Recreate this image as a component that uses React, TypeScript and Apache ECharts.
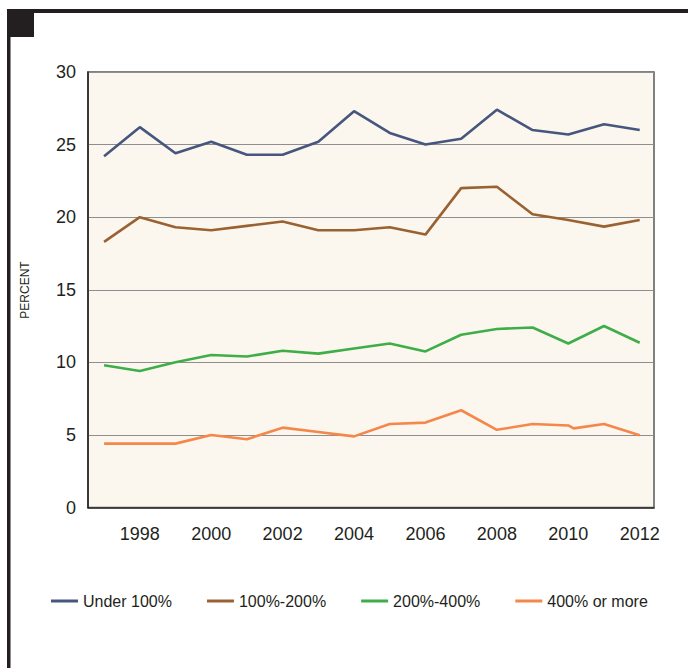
import React, { useEffect, useRef } from "react";
import * as echarts from "echarts";

const years = [1997, 1998, 1999, 2000, 2001, 2002, 2003, 2004, 2005, 2006, 2007, 2008, 2009, 2010, 2011, 2012];
const under100 = [24.2, 26.2, 24.4, 25.2, 24.3, 24.3, 25.2, 27.3, 25.8, 25.0, 25.4, 27.4, 26.0, 25.7, 26.4, 26.0];
const p100to200 = [18.3, 20.0, 19.3, 19.1, 19.4, 19.7, 19.1, 19.1, 19.3, 18.8, 22.0, 22.1, 20.2, 19.8, 19.35, 19.8];
const p200to400 = [9.8, 9.4, 10.0, 10.5, 10.4, 10.8, 10.6, 10.95, 11.3, 10.75, 11.9, 12.3, 12.4, 11.3, 12.5, 11.35];
const orangeYears = [1997, 1998, 1999, 2000, 2001, 2002, 2003, 2004, 2005, 2006, 2007, 2008, 2009, 2010, 2010.15, 2011, 2012];
const p400plus = [4.4, 4.4, 4.4, 5.0, 4.7, 5.5, 5.2, 4.9, 5.75, 5.85, 6.7, 5.35, 5.75, 5.65, 5.45, 5.75, 4.98];
const seriesNames = ["Under 100%", "100%-200%", "200%-400%", "400% or more"];
const seriesColors = ["#47567e", "#9a6232", "#3fae49", "#f5874a"];
const xTickLabels = [1998, 2000, 2002, 2004, 2006, 2008, 2010, 2012];
const yTicks = [0, 5, 10, 15, 20, 25, 30];

const FONT = "'Liberation Sans', Arial, Helvetica, sans-serif";
const INK = "#231f20";

function pairs(xs: number[], ys: number[]) {
  return xs.map((x, i) => [x, ys[i]]);
}

export default function App() {
  const ref = useRef<HTMLDivElement>(null);
  useEffect(() => {
    if (!ref.current) return;
    const chart = echarts.init(ref.current, undefined, { renderer: "svg" });
    const datasets = [
      pairs(years, under100),
      pairs(years, p100to200),
      pairs(years, p200to400),
      pairs(orangeYears, p400plus),
    ];
    chart.setOption({
      animation: false,
      backgroundColor: "#ffffff",
      textStyle: { fontFamily: FONT },
      grid: {
        left: 88,
        top: 72,
        right: 34,
        bottom: 160.5,
        show: true,
        backgroundColor: "#fbf7ef",
        borderColor: "#5a5a5a",
        borderWidth: 1.5,
      },
      legend: {
        left: 51,
        top: 593,
        padding: 0,
        icon: "rect",
        itemWidth: 27,
        itemHeight: 3,
        itemGap: 35,
        data: seriesNames,
        textStyle: { fontSize: 16, color: INK, fontFamily: FONT },
      },
      xAxis: {
        type: "value",
        min: 1996.55,
        max: 2012.4,
        axisLine: { show: true, lineStyle: { color: INK, width: 1.5 } },
        axisTick: { show: false },
        splitLine: { show: false },
        axisLabel: {
          customValues: xTickLabels,
          fontSize: 18,
          color: INK,
          margin: 17,
          fontFamily: FONT,
          formatter: (v: number) => String(v),
        },
      },
      yAxis: {
        type: "value",
        min: yTicks[0],
        max: yTicks[yTicks.length - 1],
        interval: 5,
        axisLine: { show: true, lineStyle: { color: INK, width: 1.5 } },
        axisTick: { show: false },
        splitLine: { show: true, lineStyle: { color: "#8e8e8e", width: 1.2 } },
        axisLabel: { fontSize: 18, color: INK, margin: 12, fontFamily: FONT },
      },
      graphic: [
        { type: "rect", shape: { x: 7, y: 9, width: 681, height: 4 }, style: { fill: INK } },
        { type: "rect", shape: { x: 7, y: 9, width: 3.5, height: 659 }, style: { fill: INK } },
        { type: "rect", shape: { x: 7, y: 9, width: 27, height: 28 }, style: { fill: INK } },
        {
          type: "text",
          x: 25,
          y: 290,
          rotation: Math.PI / 2,
          style: {
            text: "PERCENT",
            fontSize: 12,
            fontFamily: FONT,
            fill: INK,
            align: "center",
            verticalAlign: "middle",
          },
        },
      ],
      series: seriesNames.map((name, i) => ({
        name,
        type: "line",
        data: datasets[i],
        symbol: "none",
        showSymbol: false,
        color: seriesColors[i],
        lineStyle: { color: seriesColors[i], width: 2.6 },
      })),
    });
    return () => chart.dispose();
  }, []);
  return (
    <div
      ref={ref}
      style={{ position: "fixed", left: 0, top: 0, width: 688, height: 668 }}
    />
  );
}
